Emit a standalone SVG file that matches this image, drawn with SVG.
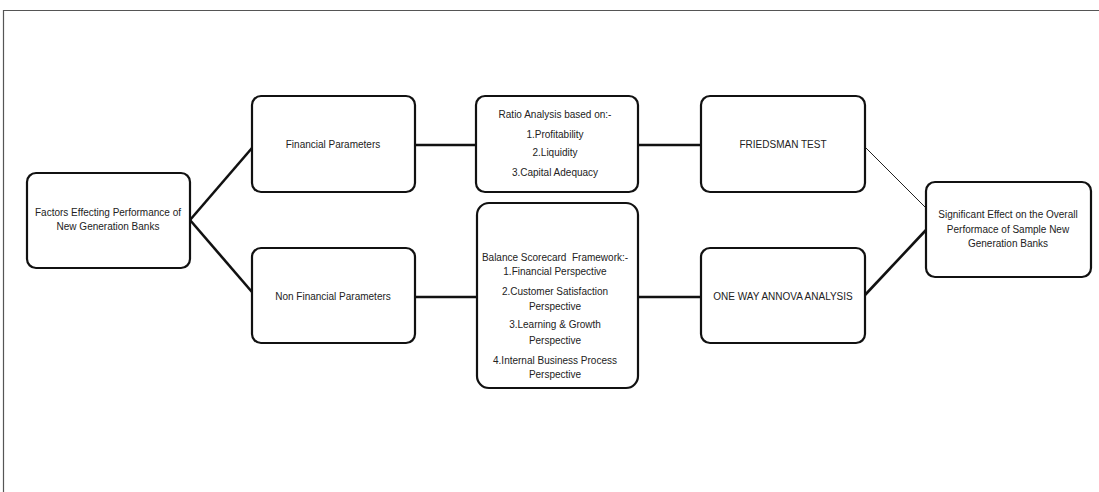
<svg xmlns="http://www.w3.org/2000/svg" width="1099" height="492" viewBox="0 0 1099 492">
<style>
.box{fill:#fff;stroke:#111;stroke-width:2.2}
.t{font-family:"Liberation Sans",Arial,sans-serif;font-size:10px;fill:#222;text-anchor:middle}
.c{stroke:#111;stroke-width:2.6;fill:none}
.thin{stroke:#222;stroke-width:1;fill:none}
</style>
<rect width="1099" height="492" fill="#fff"/>
<path d="M3.5,492 V10.5 H1099" fill="none" stroke="#555" stroke-width="1.2"/>
<g id="connectors">
<line class="c" x1="190" y1="220" x2="252" y2="148"/>
<line class="c" x1="190" y1="220" x2="252" y2="292"/>
<line class="c" x1="415" y1="145" x2="476" y2="145"/>
<line class="c" x1="638" y1="145" x2="701" y2="145"/>
<line class="c" x1="415" y1="297" x2="477" y2="297"/>
<line class="c" x1="638" y1="297" x2="701" y2="297"/>
<line class="thin" x1="865" y1="147" x2="926" y2="208"/>
<line class="c" x1="865" y1="295" x2="926" y2="230"/>
</g>
<g id="factors">
<rect class="box" x="27" y="173" width="163" height="95" rx="9"/>
<text class="t" x="108" y="216">Factors Effecting Performance of</text>
<text class="t" x="108" y="230">New Generation Banks</text>
</g>
<g id="financial">
<rect class="box" x="252" y="96" width="163" height="96" rx="9"/>
<text class="t" x="333" y="148">Financial Parameters</text>
</g>
<g id="ratio">
<rect class="box" x="476" y="96" width="162" height="96" rx="9"/>
<text class="t" x="555" y="118">Ratio Analysis based on:-</text>
<text class="t" x="555" y="138">1.Profitability</text>
<text class="t" x="555" y="156">2.Liquidity</text>
<text class="t" x="555" y="176">3.Capital Adequacy</text>
</g>
<g id="friedsman">
<rect class="box" x="701" y="96" width="164" height="96" rx="9"/>
<text class="t" x="783" y="148">FRIEDSMAN TEST</text>
</g>
<g id="nonfinancial">
<rect class="box" x="252" y="248" width="163" height="95" rx="9"/>
<text class="t" x="333" y="300">Non Financial Parameters</text>
</g>
<g id="balance">
<rect class="box" x="477" y="203" width="161" height="185" rx="12"/>
<text class="t" x="555" y="261" xml:space="preserve">Balance Scorecard  Framework:-</text>
<text class="t" x="555" y="275">1.Financial Perspective</text>
<text class="t" x="555" y="295">2.Customer Satisfaction</text>
<text class="t" x="555" y="310">Perspective</text>
<text class="t" x="555" y="328">3.Learning &amp; Growth</text>
<text class="t" x="555" y="344">Perspective</text>
<text class="t" x="555" y="364">4.Internal Business Process</text>
<text class="t" x="555" y="378">Perspective</text>
</g>
<g id="oneway">
<rect class="box" x="701" y="248" width="164" height="95" rx="9"/>
<text class="t" x="783" y="300">ONE WAY ANNOVA ANALYSIS</text>
</g>
<g id="significant">
<rect class="box" x="926" y="182" width="165" height="95" rx="9"/>
<text class="t" x="1008" y="218">Significant Effect on the Overall</text>
<text class="t" x="1008" y="233">Performace of Sample New</text>
<text class="t" x="1008" y="247">Generation Banks</text>
</g>
</svg>
